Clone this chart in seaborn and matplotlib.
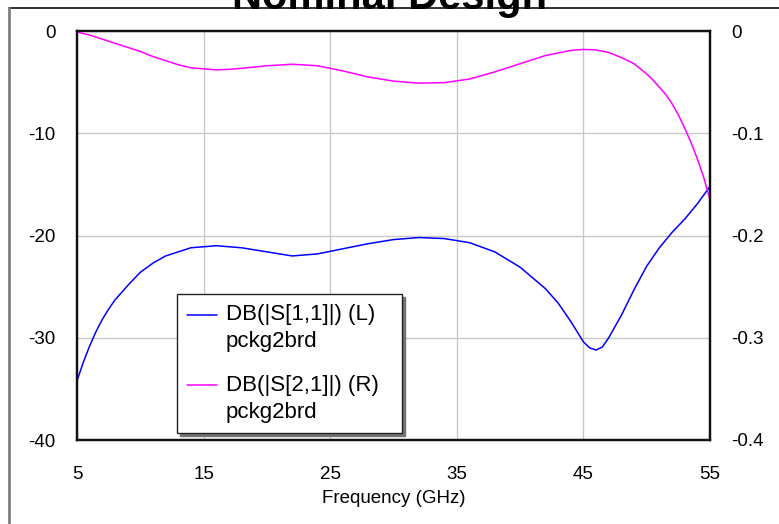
import matplotlib
matplotlib.use("Agg")
import matplotlib.pyplot as plt
import seaborn as sns
import pandas as pd
from matplotlib.lines import Line2D
from matplotlib.legend_handler import HandlerLine2D

# S-parameter sweep of the package-to-board transition
freq_s11 = [5, 5.5, 6, 6.5, 7, 7.5, 8, 9, 10, 11, 12, 14, 16, 18, 20, 22, 24, 26, 28,
            30, 32, 34, 36, 38, 40, 42, 43, 44, 45, 45.5, 46, 46.5, 47, 48, 49, 50, 51,
            52, 53, 54, 55]
s11_db = [-34.2, -32.4, -30.8, -29.4, -28.2, -27.2, -26.3, -24.9, -23.6, -22.7, -22.0,
          -21.2, -21.0, -21.2, -21.6, -22.0, -21.8, -21.3, -20.8, -20.4, -20.2, -20.3,
          -20.7, -21.6, -23.1, -25.2, -26.6, -28.4, -30.4, -31.0, -31.2, -30.9, -30.0,
          -27.8, -25.3, -23.0, -21.2, -19.7, -18.4, -16.9, -15.2]

freq_s21 = [5, 6, 7, 8, 9, 10, 11, 12, 13, 14, 15, 16, 17, 18, 20, 22, 24, 26, 28, 30,
            32, 34, 36, 38, 40, 42, 44, 45, 46, 47, 48, 49, 50, 50.5, 51, 51.5, 52,
            52.5, 53, 53.5, 54, 54.5, 55]
s21_db = [-0.001, -0.004, -0.008, -0.012, -0.016, -0.020, -0.025, -0.029, -0.033,
          -0.036, -0.037, -0.038, -0.0375, -0.0365, -0.034, -0.0325, -0.034, -0.039,
          -0.045, -0.049, -0.051, -0.0505, -0.047, -0.040, -0.032, -0.024, -0.019,
          -0.018, -0.0185, -0.021, -0.026, -0.032, -0.042, -0.048, -0.055, -0.062,
          -0.071, -0.082, -0.095, -0.109, -0.125, -0.143, -0.165]

x_ticks = [5, 15, 25, 35, 45, 55]
left_ticks = [-40, -30, -20, -10, 0]
left_labels = ["-40", "-30", "-20", "-10", "0"]
right_ticks = [-0.4, -0.3, -0.2, -0.1, 0]
right_labels = ["-0.4", "-0.3", "-0.2", "-0.1", "0"]

label_s11 = "DB(|S[1,1]|) (L)\npckg2brd"
label_s21 = "DB(|S[2,1]|) (R)\npckg2brd"


class FirstLineHandler(HandlerLine2D):
    """Legend line sample aligned with the first line of a two-line label."""

    def __init__(self, shift, **kw):
        super().__init__(**kw)
        self.shift = shift

    def create_artists(self, legend, orig_handle, xdescent, ydescent, width, height,
                       fontsize, trans):
        artists = super().create_artists(legend, orig_handle, xdescent, ydescent,
                                         width, height, fontsize, trans)
        for a in artists:
            a.set_ydata([y + self.shift for y in a.get_ydata()])
        return artists


sns.set_theme(style="whitegrid")
plt.rcParams["font.family"] = ["Liberation Sans", "DejaVu Sans"]
plt.rcParams["axes.unicode_minus"] = False
plt.rcParams["text.color"] = "black"

W, H = 779, 524
fig = plt.figure(figsize=(W / 100, H / 100), dpi=100)
fig.patch.set_facecolor("white")

ax = fig.add_axes([77 / W, 1 - 440 / H, (710 - 77) / W, (440 - 31) / H])
ax2 = ax.twinx()

df11 = pd.DataFrame({"f": freq_s11, "v": s11_db})
df21 = pd.DataFrame({"f": freq_s21, "v": s21_db})
sns.lineplot(data=df11, x="f", y="v", ax=ax, color="#0000ff", lw=1.1, label=label_s11, legend=False)
sns.lineplot(data=df21, x="f", y="v", ax=ax2, color="#ff00ff", lw=1.1, label=label_s21, legend=False)

ax.set_xlim(5, 55)
ax.set_ylim(-40, 0)
ax2.set_ylim(-0.4, 0)
ax.set_xticks(x_ticks)
ax.set_xticklabels([str(t) for t in x_ticks])
ax.set_yticks(left_ticks)
ax.set_yticklabels(left_labels)
ax2.set_yticks(right_ticks)
ax2.set_yticklabels(right_labels)

ax.grid(True, color="#c8c8c8", lw=1.0)
ax2.grid(False)
ax.set_facecolor("white")
for a in (ax, ax2):
    a.tick_params(axis="both", length=0, labelsize=13.5, colors="black")
ax.tick_params(axis="y", pad=15.5)
ax2.tick_params(axis="y", pad=15)
ax.tick_params(axis="x", pad=18.5)
ax.set_xlabel("Frequency (GHz)", fontsize=13.5, labelpad=5.5, color="black")
ax.set_ylabel("")
ax2.set_ylabel("")

for a in (ax, ax2):
    for side, sp in a.spines.items():
        sp.set_visible(True)
        sp.set_color("#111111")
        sp.set_linewidth(1.6)

# legend box spanning a fixed width, samples on the first label line
x0 = (177 - 77) / 633
y_top = (440 - 294) / 409
w = (402 - 177) / 633
h1, l1 = ax.get_legend_handles_labels()
h2, l2 = ax2.get_legend_handles_labels()
hmap = {h: FirstLineHandler(10.0) for h in h1 + h2}
leg = ax2.legend(h1 + h2, l1 + l2, loc="upper left", mode="expand",
                 bbox_to_anchor=(x0, y_top - 0.01, w, 0.01),
                 borderaxespad=0, fontsize=16, frameon=True, fancybox=False,
                 shadow={"color": "0.45", "alpha": 1.0},
                 handlelength=1.35, handletextpad=0.4, labelspacing=1.0,
                 borderpad=0.45, handler_map=hmap)
leg.get_frame().set_edgecolor("#222222")
leg.get_frame().set_linewidth(1.0)
leg.get_frame().set_facecolor("white")
leg.get_frame().set_alpha(1.0)
for t in leg.get_texts():
    t.set_linespacing(1.4)
    t.set_color("black")

# title and outer frame
fig.text(390 / W, 1 - 9 / H, "Nominal Design", ha="center", va="baseline",
         fontsize=30, fontweight="bold", color="black")
fig.add_artist(Line2D([9 / W, 1.0], [1 - 8 / H, 1 - 8 / H], transform=fig.transFigure,
                      color="#222222", lw=1.3))
fig.add_artist(Line2D([9 / W, 9 / W], [0.0, 1 - 8 / H], transform=fig.transFigure,
                      color="#808080", lw=2.0))

fig.savefig("out.png", dpi=100, facecolor="white")
